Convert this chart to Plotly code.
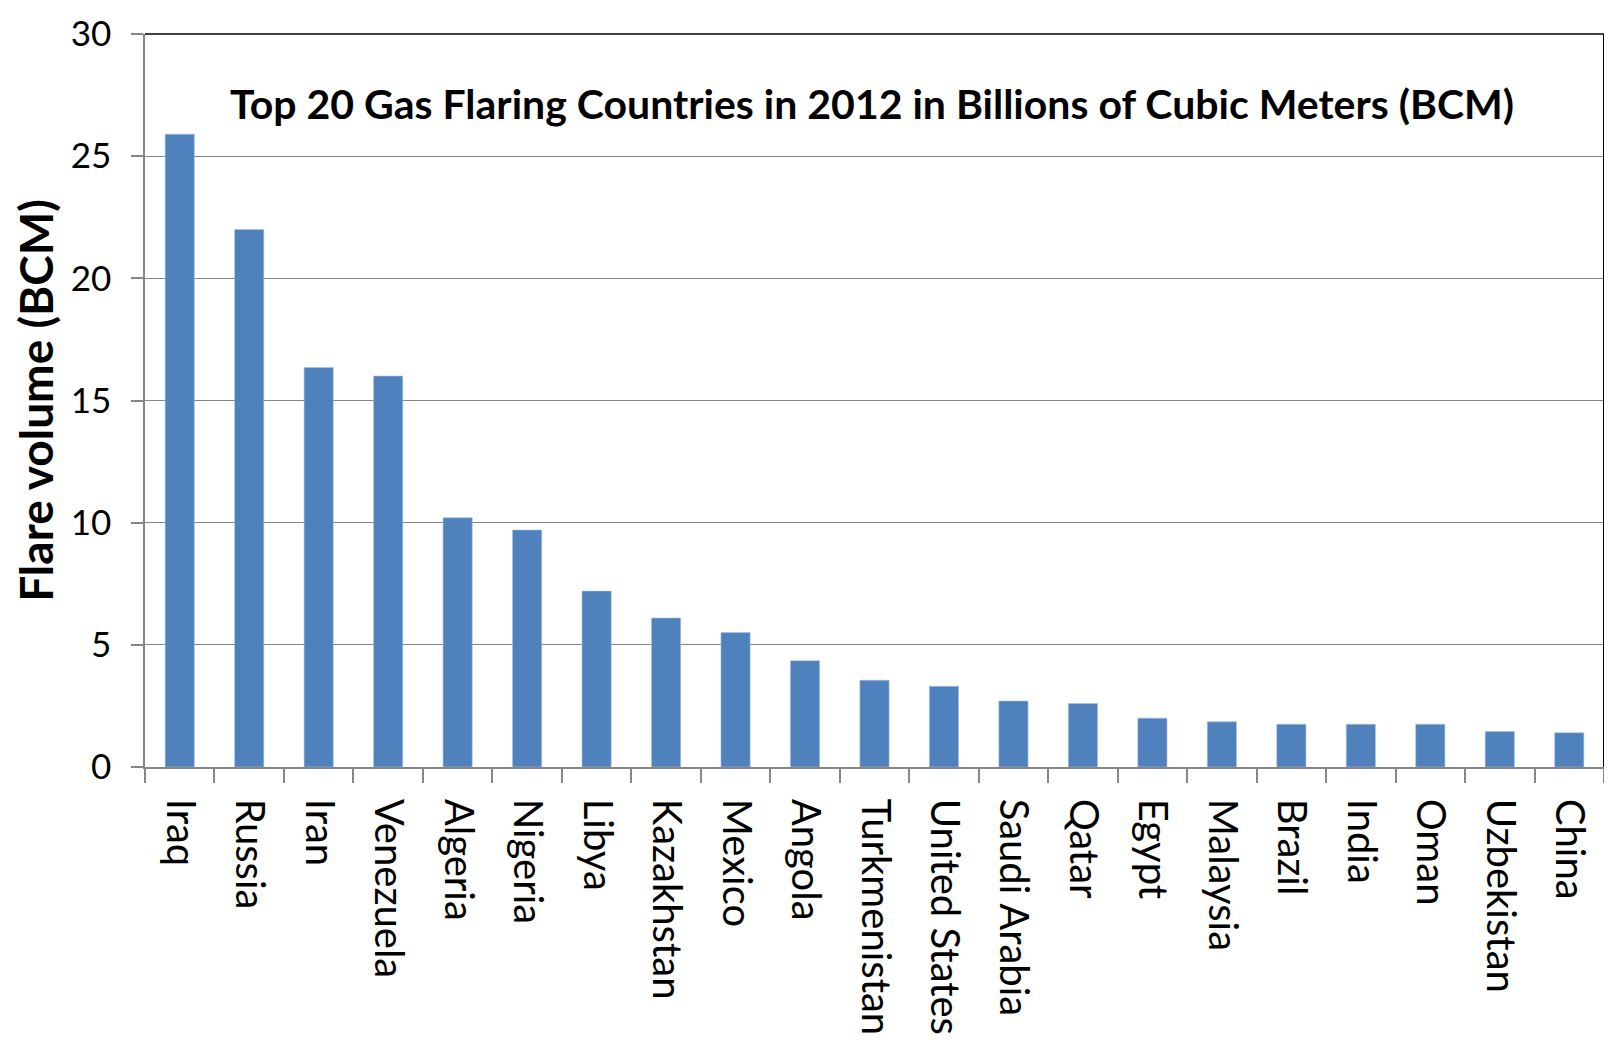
import plotly.graph_objects as go

countries = ["Iraq", "Russia", "Iran", "Venezuela", "Algeria", "Nigeria", "Libya",
             "Kazakhstan", "Mexico", "Angola", "Turkmenistan", "United States",
             "Saudi Arabia", "Qatar", "Egypt", "Malaysia", "Brazil", "India", "Oman",
             "Uzbekistan", "China"]
flare_bcm = [25.9, 22.0, 16.35, 16.0, 10.2, 9.7, 7.2, 6.1, 5.5, 4.35, 3.55, 3.3,
             2.7, 2.6, 2.0, 1.85, 1.75, 1.75, 1.75, 1.45, 1.4]
y_ticks = [0, 5, 10, 15, 20, 25, 30]

title_text = "Top 20 Gas Flaring Countries in 2012 in Billions of Cubic Meters (BCM)"
y_title = "Flare volume (BCM)"

FONT = "Lato, Carlito, Calibri, sans-serif"

fig = go.Figure()
fig.add_trace(go.Bar(
    x=countries, y=flare_bcm,
    marker=dict(color="#4F81BD", line=dict(color="#a9c0de", width=0.6)),
    width=0.42,
))

fig.update_layout(
    width=1596, height=1031,
    margin=dict(l=137, r=0, t=26, b=272, autoexpand=False),
    paper_bgcolor="white", plot_bgcolor="white",
    showlegend=False,
    font=dict(family=FONT, color="black", size=40),
    annotations=[dict(
        text="<b>" + title_text + "</b>",
        x=0.498, y=0.905, xref="paper", yref="paper",
        xanchor="center", yanchor="middle", showarrow=False,
        font=dict(family=FONT, size=41, color="black"),
    )],
    shapes=[
        dict(type="line", xref="paper", yref="paper", x0=0, x1=1, y0=1, y1=1,
             line=dict(color="black", width=1.3)),
        dict(type="line", xref="paper", yref="paper", x0=1, x1=1, y0=0, y1=1,
             line=dict(color="black", width=2)),
    ],
)

fig.update_xaxes(
    type="category",
    tickangle=90,
    tickfont=dict(family=FONT, size=40, color="black"),
    showline=True, linecolor="#868686", linewidth=1.5,
    ticks="outside", tickson="boundaries", ticklen=14, tickcolor="#868686", tickwidth=1.5,
    ticklabelstandoff=22,
    showgrid=False, zeroline=False,
    range=[-0.5, len(countries) - 0.5],
)

fig.update_yaxes(
    range=[0, 30], tickvals=y_ticks,
    tickfont=dict(family=FONT, size=35, color="black"),
    showline=True, linecolor="#868686", linewidth=1.5,
    ticks="outside", ticklen=12, tickcolor="#868686", tickwidth=1.5,
    showgrid=True, gridcolor="#868686", gridwidth=1.3,
    zeroline=False,
    ticklabelstandoff=13,
    ticklabeloverflow="allow",
    title=dict(text="<b>" + y_title + "</b>", font=dict(family=FONT, size=46, color="black"),
               standoff=16),
)

fig.write_html("out.html")
